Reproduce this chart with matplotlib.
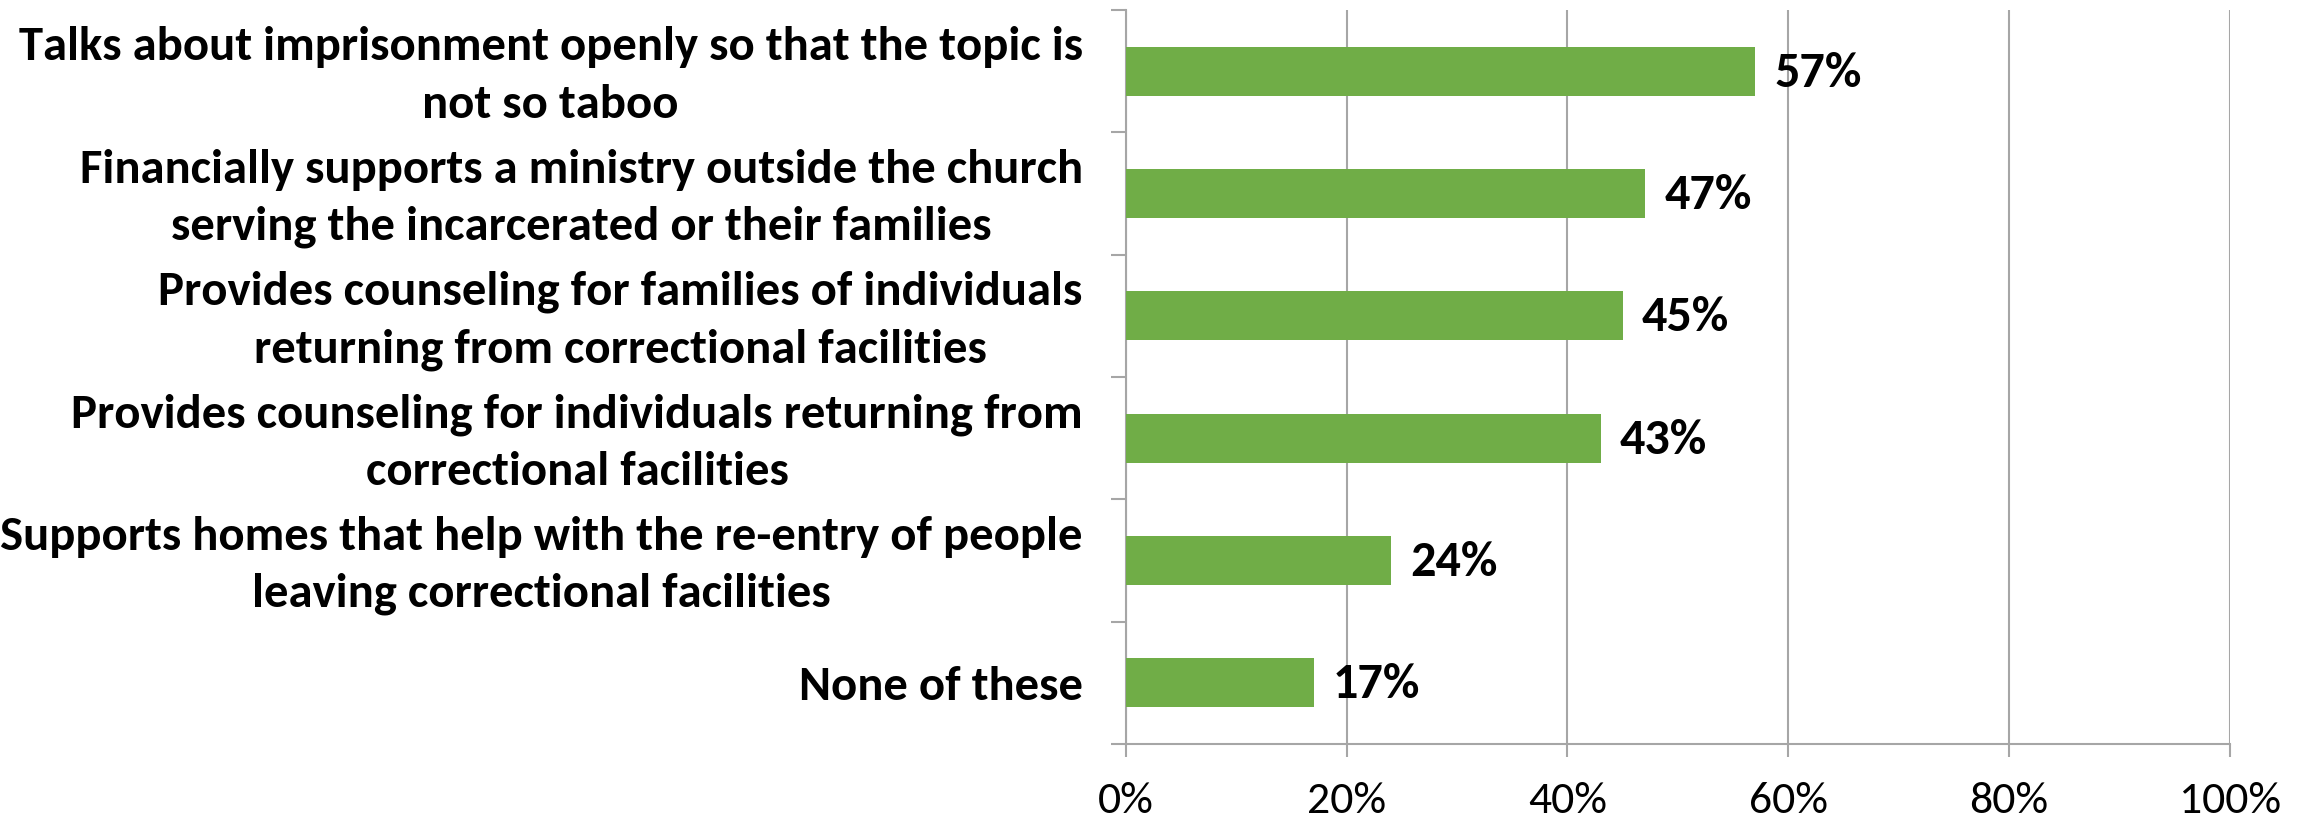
import matplotlib
matplotlib.use("Agg")
import matplotlib.pyplot as plt
from matplotlib import font_manager
from matplotlib.ticker import FixedLocator, PercentFormatter
from matplotlib.transforms import ScaledTranslation

categories = [
    "Talks about imprisonment openly so that the topic is\nnot so taboo",
    "Financially supports a ministry outside the church\nserving the incarcerated or their families",
    "Provides counseling for families of individuals\nreturning from correctional facilities",
    "Provides counseling for individuals returning from\ncorrectional facilities",
    "Supports homes that help with the re-entry of people\nleaving correctional facilities",
    "None of these",
]
values = [57, 47, 45, 43, 24, 17]
xticks = [0, 20, 40, 60, 80, 100]

available = {f.name for f in font_manager.fontManager.ttflist}
family = next((f for f in ["Carlito", "Liberation Sans Narrow", "Roboto Condensed", "Lato", "DejaVu Sans"]
               if f in available), "DejaVu Sans")
plt.rcParams["font.family"] = family

bar_color = "#70AD47"
grid_color = "#A6A6A6"

fig = plt.figure(figsize=(23.07, 8.16), dpi=100)
renderer = fig.canvas.get_renderer()

# size the category font so the longest first line spans about 1065 px
probe = fig.text(0, 0, categories[0].split("\n")[0], fontsize=34, fontweight="bold")
w = probe.get_window_extent(renderer).width
probe.remove()
label_size = min(36, 34 * 1065 / w)

ax = fig.add_axes([0.488, 0.0882, 0.9666 - 0.488, 0.9877 - 0.0882])

n = len(categories)
ypos = list(range(n))[::-1]
ax.barh(ypos, values, height=0.4, color=bar_color, zorder=3)

for y, v in zip(ypos, values):
    ax.annotate(f"{v}%", xy=(v, y), xytext=(14, -1), textcoords="offset points",
                ha="left", va="center", fontsize=label_size * 1.03, fontweight="bold",
                color="black")

ax.set_xlim(0, 100)
ax.set_ylim(-0.5, n - 0.5)
ax.xaxis.set_major_locator(FixedLocator(xticks))
ax.xaxis.set_major_formatter(PercentFormatter(decimals=0))
ax.grid(axis="x", color=grid_color, linewidth=1.5, zorder=0)

ax.set_yticks(ypos)
ax.set_yticklabels(categories, fontsize=label_size, fontweight="bold", ha="right",
                   multialignment="center", linespacing=1.45)
ax.yaxis.set_minor_locator(FixedLocator([i - 0.5 for i in range(n + 1)]))
ax.tick_params(axis="y", which="major", length=0, pad=31)
ax.tick_params(axis="y", which="minor", length=11, width=1.5, color=grid_color)
ax.tick_params(axis="x", length=9.5, width=1.5, color=grid_color,
               labelsize=label_size * 0.94, pad=18)

# nudge the two-line labels up a little so they sit centred on their bars
lift = ScaledTranslation(0, 5 / 72, fig.dpi_scale_trans)
for lbl in ax.get_yticklabels():
    if "\n" in lbl.get_text():
        lbl.set_transform(lbl.get_transform() + lift)

for side in ["top", "right"]:
    ax.spines[side].set_visible(False)
for side in ["left", "bottom"]:
    ax.spines[side].set_color(grid_color)
    ax.spines[side].set_linewidth(1.5)

fig.savefig("out.png", dpi=100, facecolor="white")
